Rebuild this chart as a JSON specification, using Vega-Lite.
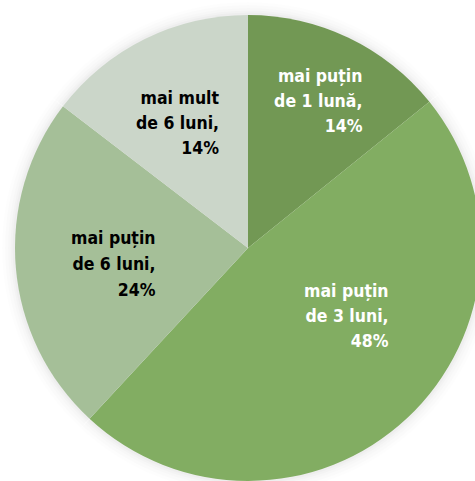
{
  "$schema": "https://vega.github.io/schema/vega-lite/v6.json",
  "width": 454,
  "height": 466,
  "autosize": {"type": "none"},
  "padding": {"left": 21, "top": 15, "right": 0, "bottom": 0},
  "background": "white",
  "config": {"view": {"stroke": null}},
  "data": {
    "values": [
      {"order": 1, "cat": "mai puțin de 1 lună", "value": 14.2, "label": "mai puțin\nde 1 lună,\n14%"},
      {"order": 2, "cat": "mai puțin de 3 luni", "value": 47.7, "label": "mai puțin\nde 3 luni,\n48%"},
      {"order": 3, "cat": "mai puțin de 6 luni", "value": 23.5, "label": "mai puțin\nde 6 luni,\n24%"},
      {"order": 4, "cat": "mai mult de 6 luni", "value": 14.6, "label": "mai mult\nde 6 luni,\n14%"}
    ]
  },
  "encoding": {
    "theta": {"field": "value", "type": "quantitative", "stack": true},
    "order": {"field": "order", "type": "quantitative"}
  },
  "layer": [
    {"mark": {"type": "arc", "outerRadius": 246, "fill": "#000000", "opacity": 0.008}},
    {"mark": {"type": "arc", "outerRadius": 243, "fill": "#000000", "opacity": 0.01}},
    {"mark": {"type": "arc", "outerRadius": 240, "fill": "#000000", "opacity": 0.012}},
    {"mark": {"type": "arc", "outerRadius": 237.5, "fill": "#000000", "opacity": 0.015}},
    {"mark": {"type": "arc", "outerRadius": 235.5, "fill": "#000000", "opacity": 0.02}},
    {
      "mark": {"type": "arc", "outerRadius": 233},
      "encoding": {
        "color": {
          "field": "cat",
          "type": "nominal",
          "sort": ["mai puțin de 1 lună", "mai puțin de 3 luni", "mai puțin de 6 luni", "mai mult de 6 luni"],
          "scale": {"range": ["#729854", "#82ad62", "#a5bf98", "#cbd6c9"]},
          "legend": null
        }
      }
    },
    {
      "mark": {"type": "text", "radius": 140, "align": "right", "baseline": "top", "lineBreak": "\n", "lineHeight": 25, "font": "DejaVu Sans Condensed", "fontWeight": "bold", "fontSize": 17.5, "dx": 54, "dy": -54, "fill": "#ffffff"},
      "encoding": {"text": {"condition": {"test": "datum.order == 1", "field": "label"}, "value": ""}}
    },
    {
      "mark": {"type": "text", "radius": 140, "align": "right", "baseline": "top", "lineBreak": "\n", "lineHeight": 25, "font": "DejaVu Sans Condensed", "fontWeight": "bold", "fontSize": 17.5, "dx": 45, "dy": -67, "fill": "#ffffff"},
      "encoding": {"text": {"condition": {"test": "datum.order == 2", "field": "label"}, "value": ""}}
    },
    {
      "mark": {"type": "text", "radius": 140, "align": "right", "baseline": "top", "lineBreak": "\n", "lineHeight": 26, "font": "DejaVu Sans Condensed", "fontWeight": "bold", "fontSize": 17.5, "dx": 47, "dy": -30, "fill": "#000000"},
      "encoding": {"text": {"condition": {"test": "datum.order == 3", "field": "label"}, "value": ""}}
    },
    {
      "mark": {"type": "text", "radius": 140, "align": "right", "baseline": "top", "lineBreak": "\n", "lineHeight": 25, "font": "DejaVu Sans Condensed", "fontWeight": "bold", "fontSize": 17.5, "dx": 33, "dy": -32, "fill": "#000000"},
      "encoding": {"text": {"condition": {"test": "datum.order == 4", "field": "label"}, "value": ""}}
    }
  ]
}
